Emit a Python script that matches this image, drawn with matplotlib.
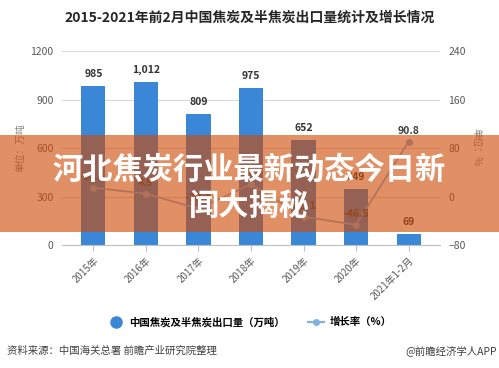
import matplotlib
matplotlib.use("Agg")
import matplotlib.pyplot as plt
from matplotlib.lines import Line2D
from matplotlib.patches import Rectangle

plt.rcParams['font.family'] = ['Noto Sans CJK SC', 'DejaVu Sans']

# data
years = ['2015年', '2016年', '2017年', '2018年', '2019年', '2020年', '2021年1-2月']
exports = [985, 1012, 809, 975, 652, 349, 69]
growth = [14.6, 4.9, -20.1, 20.5, -33.1, -46.5, 90.8]
export_labels = ['985', '1,012', '809', '975', '652', '349', '69']

bar_color = '#3a87d8'
line_color = '#7fb2e0'
text_gray = '#595959'

fig = plt.figure(figsize=(4.99, 3.68), dpi=100)
ax = fig.add_axes([0.124, 0.334, 0.758, 0.527])
ax2 = ax.twinx()

x = list(range(len(years)))
ax.bar(x, exports, width=0.46, color=bar_color, zorder=2)
for xi, v, lab in zip(x, exports, export_labels):
    ax.annotate(lab, (xi, v), xytext=(0, 5), textcoords='offset points',
                ha='center', va='bottom', fontsize=7.5, fontweight='bold', color='#333333')

ax.set_xlim(-0.6, 6.6)
ax.set_ylim(0, 1200)
ax.set_yticks([0, 300, 600, 900, 1200])
ax.grid(axis='y', color='#d9d9d9', linewidth=0.8, zorder=0)
ax.set_axisbelow(True)
for s in ['top', 'left', 'right']:
    ax.spines[s].set_visible(False)
ax.spines['bottom'].set_color('#bfbfbf')
ax.tick_params(axis='y', length=0, labelsize=7.5, labelcolor=text_gray, pad=6)
ax.tick_params(axis='x', length=4, color='#bfbfbf', labelsize=7, labelcolor=text_gray)
ax.set_xticks(x)
ax.set_xticklabels(years, rotation=45, ha='right', rotation_mode='anchor')

ax2.plot(x, growth, color=line_color, linewidth=1.2, marker='o', markersize=4, zorder=3)
for xi, v in zip(x, growth):
    ax2.annotate(f'{v}', (xi, v), xytext=(0, 4), textcoords='offset points',
                 ha='center', va='bottom', fontsize=7.5, fontweight='bold', color='#404040')
ax2.set_ylim(-80, 240)
ax2.set_yticks([-80, 0, 80, 160, 240])
for s in ['top', 'left', 'right', 'bottom']:
    ax2.spines[s].set_visible(False)
ax2.tick_params(axis='y', length=0, labelsize=7.5, labelcolor=text_gray, pad=6)

fig.text(0.04, 0.6, '单位：万吨', rotation=90, ha='center', va='center',
         fontsize=7, color='#7f7f7f')
fig.text(0.955, 0.6, '单位：%', rotation=270, ha='center', va='center',
         fontsize=7, color='#7f7f7f')

fig.text(0.5, 0.953, '2015-2021年前2月中国焦炭及半焦炭出口量统计及增长情况',
         ha='center', va='center', fontsize=10, fontweight='bold', color='#262626')

handles = [
    Line2D([], [], linestyle='none', marker='o', markersize=8, color=bar_color),
    Line2D([], [], color=line_color, linewidth=1.5, marker='o', markersize=4),
]
fig.legend(handles, ['中国焦炭及半焦炭出口量（万吨）', '增长率（%）'],
           loc='center', bbox_to_anchor=(0.5, 0.125), ncol=2, frameon=False,
           prop={'size': 7.5, 'weight': 'bold'}, handlelength=1.6,
           columnspacing=2.2, handletextpad=0.5)

fig.text(0.014, 0.047, '资料来源：中国海关总署 前瞻产业研究院整理', ha='left', va='center',
         fontsize=7.5, color='#404040')
fig.text(0.995, 0.047, '@前瞻经济学人APP', ha='right', va='center',
         fontsize=7.5, color='#404040')

# orange banner with headline
fig.patches.append(Rectangle((0, 1 - 232 / 368), 1, 97 / 368, transform=fig.transFigure,
                             facecolor='#cf4a05', alpha=0.62, edgecolor='none', zorder=10))
fig.text(0.5, 1 - 170 / 368, '河北焦炭行业最新动态今日新', ha='center', va='center',
         fontsize=21.8, fontweight='bold', color='white', zorder=11)
fig.text(0.5, 1 - 206 / 368, '闻大揭秘', ha='center', va='center',
         fontsize=21.8, fontweight='bold', color='white', zorder=11)

fig.savefig('out.png', dpi=100)
